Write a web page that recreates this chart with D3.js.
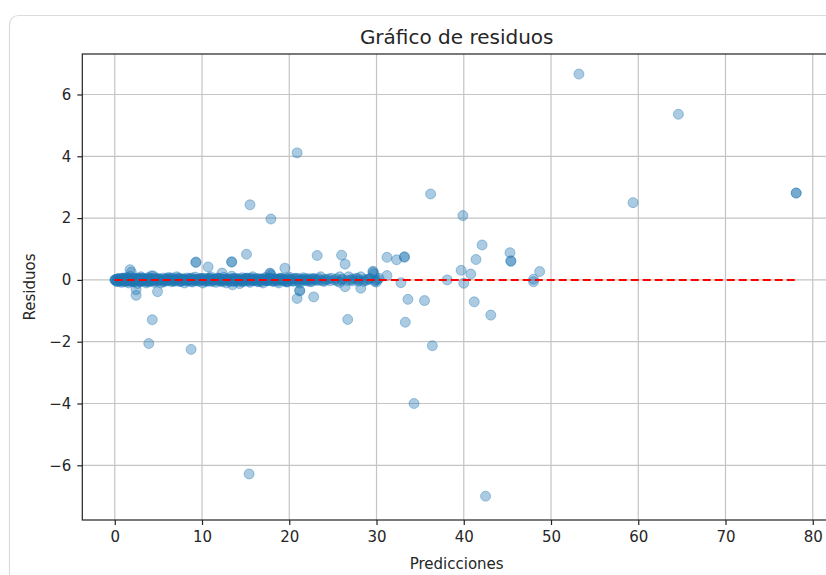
<!DOCTYPE html>
<html>
<head>
<meta charset="utf-8">
<script src="https://cdn.jsdelivr.net/npm/d3@7"></script>
<style>
  html, body { margin: 0; padding: 0; background: #fff; }
  svg { display: block; }
  text { font-family: "DejaVu Sans", sans-serif; }
</style>
</head>
<body>
<svg id="chart" width="826" height="575"></svg>
<script>
// ---- Data ----
const title = "Gráfico de residuos";
const xLabel = "Predicciones";
const yLabel = "Residuos";
const xTicks = [0, 10, 20, 30, 40, 50, 60, 70, 80];
const yTicks = [-6, -4, -2, 0, 2, 4, 6];

// dense band of near-zero residuals (four overlapping groups)
const bandPred = [0.0, 0.2, 0.4, 0.6, 0.8, 1.0, 1.2, 1.4, 1.6, 1.8, 2.0, 2.2, 2.4, 2.6, 2.8, 3.0, 3.2, 3.4, 3.6, 3.8,
  4.0, 4.2, 4.5, 4.8, 5.0, 5.3, 5.6, 5.9, 6.2, 6.5, 6.8, 7.1, 7.4, 7.7, 8.0, 8.3, 8.6, 8.9, 9.2, 9.5,
  9.8, 10.1, 10.4, 10.7, 11.0, 11.3, 11.6, 11.9, 12.2, 12.5, 12.8, 13.1, 13.4, 13.7, 14.0, 14.3, 14.6, 14.9, 15.2, 15.5,
  15.8, 16.1, 16.4, 16.7, 17.0, 17.3, 17.6, 17.9, 18.2, 18.5, 18.8, 19.1, 19.4, 19.7, 20.0, 20.4, 20.8, 21.2, 21.6, 22.0,
  22.4, 22.8, 23.2, 23.6, 24.0, 24.5, 25.2, 25.8, 25.8, 26.4, 26.8, 27.3, 27.8, 28.2, 28.5, 29.0, 29.7, 29.8, 30.0, 30.3,
  31.2, 32.8, 38.1, 40.0, 40.8, 48.0, 48.0];
const bandResid = [0.0, -0.05, 0.03, 0.0, -0.08, 0.05, -0.02, 0.08, -0.1, 0.12, 0.0, -0.06, 0.06, -0.12, 0.02, 0.1, -0.04, 0.0, -0.1, 0.07,
  -0.02, 0.13, -0.08, 0.03, 0.0, -0.1, 0.06, -0.03, 0.08, -0.06, 0.0, 0.1, -0.05, 0.02, -0.1, 0.06, 0.0, -0.07, 0.09, -0.02,
  0.04, -0.1, 0.05, -0.04, 0.1, 0.0, -0.08, 0.05, -0.03, 0.08, -0.1, 0.02, 0.12, -0.05, 0.0, -0.12, 0.07, -0.03, 0.05, -0.08,
  0.1, 0.0, -0.06, 0.04, -0.1, 0.08, -0.02, 0.15, -0.05, 0.03, -0.1, 0.06, 0.0, -0.07, 0.09, -0.04, 0.02, -0.1, 0.07, 0.0,
  -0.06, 0.05, -0.02, 0.1, -0.05, 0.03, 0.0, 0.1, -0.08, -0.22, 0.1, -0.03, 0.05, 0.1, -0.05, 0.02, 0.2, -0.05, -0.07, 0.05,
  0.14, -0.09, 0.0, -0.11, 0.19, 0.02, -0.06];

const band2Pred = [0.1, 0.35, 0.55, 0.75, 0.95, 1.15, 1.35, 1.55, 1.75, 1.95, 2.15, 2.35, 2.55, 2.75, 2.95, 3.15, 3.35, 3.55, 3.75, 3.95,
  4.15, 4.35, 4.65, 4.95, 5.15, 5.45, 5.75, 6.05, 6.35, 6.65, 6.95, 7.25, 7.55, 7.85, 8.15, 8.45, 8.75, 9.05, 9.35, 9.65,
  9.95, 10.25, 10.55, 10.85, 11.15, 11.45, 11.75, 12.05, 12.35, 12.65, 12.95, 13.25, 13.55, 13.85, 14.15, 14.45, 14.75, 15.05, 15.35, 15.65,
  15.95, 16.25, 16.55, 16.85, 17.15, 17.45, 17.75, 18.05, 18.35, 18.65, 18.95, 19.25, 19.55, 19.85, 20.2, 20.6, 21.0, 21.4, 21.8,
  22.2, 22.6, 23.0, 23.4, 23.8, 24.2, 24.8, 25.5, 26.1, 27.0, 27.6, 28.0, 28.8, 29.3, 30.1];
const band2Resid = [-0.02, 0.04, -0.05, 0.02, 0.06, -0.03, 0.01, -0.04, 0.03, -0.06,
  0.05, 0.0, -0.02, 0.05, -0.05, 0.02, 0.04, -0.04, 0.0, -0.06,
  0.04, -0.02, 0.06, -0.04, 0.03, 0.0, -0.05, 0.04, -0.01, 0.06,
  -0.04, 0.02, -0.05, 0.04, 0.0, -0.03, 0.06, -0.02, 0.02, -0.05,
  0.04, 0.0, -0.04, 0.05, -0.01, 0.03, 0.06, -0.04, 0.02, -0.03,
  0.04, -0.05, 0.02, 0.05, -0.04, 0.01, -0.06, 0.04, -0.02, 0.05,
  -0.03, 0.04, 0.0, -0.05, 0.03, -0.02, 0.06, -0.04, 0.02, 0.0,
  0.05, -0.03, 0.04, -0.06, 0.02, -0.04, 0.05, 0.0, -0.02, 0.04,
  -0.05, 0.02, 0.04, -0.03, 0.0, 0.05, -0.04, 0.02, -0.01, 0.04,
  0.0, -0.02, 0.05, 0.01];

const band3Pred = [0.05, 0.3, 0.5, 0.7, 0.9, 1.1, 1.3, 1.5, 1.7, 1.9, 2.1, 2.3, 2.5, 2.7, 2.9, 3.1, 3.3, 3.5, 3.7, 3.9,
  4.1, 4.4, 4.7, 5.1, 5.5, 5.8, 6.1, 6.4, 6.7, 7.0, 7.3, 7.6, 7.9, 8.2, 8.5, 8.8, 9.1, 9.4, 9.7, 10.0,
  10.3, 10.6, 10.9, 11.2, 11.5, 11.8, 12.1, 12.4, 12.7, 13.0, 13.3, 13.6, 13.9, 14.2, 14.5, 14.8, 15.1, 15.4, 15.7, 16.0,
  16.3, 16.6, 16.9, 17.2, 17.5, 17.8, 18.1, 18.4, 18.7, 19.0, 19.3, 19.6, 19.9, 20.3, 20.7, 21.1, 21.5, 21.9, 22.3, 22.7];
const band3Resid = [0.01, -0.05, 0.04, -0.02, 0.05, -0.06, 0.02, 0.0, 0.06, -0.03,
  0.02, -0.05, 0.04, 0.0, -0.04, 0.06, -0.01, 0.03, -0.05, 0.01,
  0.05, -0.02, 0.0, 0.04, -0.06, 0.02, -0.01, 0.05, -0.04, 0.01,
  0.06, -0.04, 0.02, -0.01, 0.04, -0.05, 0.03, 0.0, -0.02, 0.05,
  -0.04, 0.01, 0.05, -0.05, 0.02, -0.01, 0.04, -0.06, 0.02, 0.0,
  -0.03, 0.05, -0.02, 0.04, -0.05, 0.01, 0.06, -0.04, 0.02, -0.01,
  0.04, -0.05, 0.02, 0.0, -0.03, 0.05, -0.01, 0.03, -0.04, 0.02,
  0.0, -0.05, 0.04, -0.02, 0.05, -0.03, 0.01, 0.04, -0.02, 0.02];

const band4Pred = [0.15, 0.45, 0.65, 0.85, 1.05, 1.25, 1.45, 1.65, 1.85, 2.05, 2.25, 2.45, 2.65, 2.85, 3.05, 3.25, 3.45, 3.65, 3.85, 4.05,
  4.3, 4.6, 4.9, 5.2, 5.6, 5.9, 6.2, 6.5, 6.8, 7.1, 7.4, 7.7, 8.0, 8.3, 8.6, 8.9, 9.2, 9.5, 9.8, 10.1,
  10.4, 10.7, 11.0, 11.3, 11.6, 11.9, 12.2, 12.5, 12.8, 13.1, 13.4, 13.7, 14.0, 14.3, 14.6, 14.9, 15.2, 15.5, 15.8, 16.1,
  16.4, 16.7, 17.0, 17.3, 17.6, 17.9, 18.2, 18.5, 18.8, 19.1, 19.4, 19.7, 20.0, 20.5, 21.0, 21.5, 22.0, 22.5, 23.0, 23.5,
  24.1, 24.7, 25.4, 26.0, 26.6, 27.2, 27.9, 28.6, 29.2, 29.9];
const band4Resid = [0.0, 0.03, -0.03, 0.01, -0.02, 0.04, -0.04, 0.02, 0.0, -0.03,
  0.03, -0.01, 0.02, -0.04, 0.04, 0.0, -0.02, 0.03, -0.03, 0.01,
  0.02, -0.04, 0.03, 0.0, -0.02, 0.04, -0.01, 0.02, -0.03, 0.0,
  0.04, -0.02, 0.01, -0.04, 0.03, 0.0, -0.03, 0.02, 0.04, -0.01,
  0.0, 0.03, -0.04, 0.02, -0.01, 0.04, -0.03, 0.01, 0.0, -0.02,
  0.03, -0.04, 0.02, 0.0, -0.03, 0.04, -0.01, 0.02, -0.02, 0.03,
  -0.04, 0.01, 0.03, -0.02, 0.0, 0.04, -0.03, 0.02, -0.01, 0.03,
  0.0, -0.04, 0.02, 0.04, -0.02, 0.01, -0.03, 0.03, 0.0, -0.01,
  0.02, -0.03, 0.04, 0.0, -0.02, 0.03, -0.04, 0.01, 0.02, -0.01];

// scattered residuals
const outPred = [20.9, 53.2, 64.6, 78.1, 78.1, 59.4, 15.5, 17.9, 36.2, 39.9, 15.4, 42.5, 34.3, 36.4, 8.75, 3.9, 4.3, 26.7, 33.3, 43.1,
  33.6, 35.5, 41.2, 42.1, 45.3, 45.4, 45.4, 41.4, 23.2, 26.0, 26.4, 31.2, 32.3, 33.2, 33.2, 29.6, 29.6, 28.2, 22.8, 21.2,
  21.2, 20.9, 1.75, 1.9, 2.45, 2.45, 4.9, 9.3, 9.3, 10.7, 13.4, 13.4, 15.1, 17.8, 17.8, 19.5, 12.3, 13.5, 4.4, 39.7, 48.7];
const outResid = [4.11, 6.66, 5.36, 2.81, 2.81, 2.5, 2.43, 1.97, 2.78, 2.08, -6.28, -7.0, -4.0, -2.13, -2.25, -2.06, -1.29, -1.28, -1.37, -1.14,
  -0.63, -0.67, -0.71, 1.13, 0.88, 0.6, 0.62, 0.66, 0.79, 0.8, 0.51, 0.73, 0.65, 0.75, 0.73, 0.25, 0.28, -0.27, -0.55, -0.36,
  -0.34, -0.6, 0.33, 0.25, -0.5, -0.32, -0.38, 0.56, 0.58, 0.42, 0.59, 0.57, 0.83, 0.22, 0.2, 0.38, 0.22, -0.16, 0.13, 0.31, 0.27];

// ---- Drawing ----
(function () {
const preds = bandPred.concat(band2Pred, band3Pred, band4Pred, outPred);
const resid = bandResid.concat(band2Resid, band3Resid, band4Resid, outResid);
const points = preds.map((p, i) => ({ p, r: resid[i] }));

const svg = d3.select("#chart");

// notebook card
svg.append("rect")
  .attr("x", 9.5).attr("y", 15.5)
  .attr("width", 900).attr("height", 700)
  .attr("rx", 9).attr("ry", 9)
  .attr("fill", "#fff").attr("stroke", "#dcdcdc").attr("stroke-width", 1.2);

const pLeft = 82.3, pTop = 54, pBottom = 520;
const xUnit = 8.725;
const x = d3.scaleLinear().domain([-3.72, 82.1]).range([pLeft, pLeft + 85.82 * xUnit]);
const y = d3.scaleLinear().domain([-7.77, 7.31]).range([pBottom, pTop]);
const pRight = x(82.1);

const g = svg.append("g");

// grid
g.append("g").selectAll("line").data(xTicks).join("line")
  .attr("x1", d => x(d)).attr("x2", d => x(d))
  .attr("y1", pTop).attr("y2", pBottom)
  .attr("stroke", "#c4c4c4").attr("stroke-width", 1.2);
g.append("g").selectAll("line").data(yTicks).join("line")
  .attr("y1", d => y(d)).attr("y2", d => y(d))
  .attr("x1", pLeft).attr("x2", pRight)
  .attr("stroke", "#c4c4c4").attr("stroke-width", 1.2);

// points
g.append("g").selectAll("circle").data(points).join("circle")
  .attr("cx", d => x(d.p)).attr("cy", d => y(d.r))
  .attr("r", 5)
  .attr("fill", "#1f77b4").attr("fill-opacity", 0.38)
  .attr("stroke", "#1f77b4").attr("stroke-opacity", 0.38).attr("stroke-width", 1);

// zero line
g.append("line")
  .attr("x1", x(d3.min(preds))).attr("x2", x(d3.max(preds)))
  .attr("y1", y(0)).attr("y2", y(0))
  .attr("stroke", "red").attr("stroke-width", 2)
  .attr("stroke-dasharray", "8,4");

// axes
const fmt = d => (d < 0 ? "\u2212" + Math.abs(d) : String(d));
const xAxis = d3.axisBottom(x).tickValues(xTicks).tickFormat(fmt).tickSize(5).tickPadding(6);
const yAxis = d3.axisLeft(y).tickValues(yTicks).tickFormat(fmt).tickSize(5).tickPadding(6);

const xg = svg.append("g").attr("transform", `translate(0,${pBottom})`).call(xAxis);
const yg = svg.append("g").attr("transform", `translate(${pLeft},0)`).call(yAxis);
[xg, yg].forEach(a => {
  a.select(".domain").remove();
  a.selectAll(".tick line").attr("stroke", "#222").attr("stroke-width", 1.2);
  a.selectAll(".tick text").attr("fill", "#262626")
    .style("font-family", "'DejaVu Sans', sans-serif").style("font-size", "15px");
});

// spines
svg.append("rect")
  .attr("x", pLeft).attr("y", pTop)
  .attr("width", pRight - pLeft).attr("height", pBottom - pTop)
  .attr("fill", "none").attr("stroke", "#222").attr("stroke-width", 1.2);

// labels
svg.append("text").attr("x", (pLeft + pRight) / 2).attr("y", 44)
  .attr("text-anchor", "middle").attr("fill", "#262626")
  .style("font-size", "20px").text(title);
svg.append("text").attr("x", (pLeft + pRight) / 2).attr("y", 569)
  .attr("text-anchor", "middle").attr("fill", "#262626")
  .style("font-size", "15px").text(xLabel);
svg.append("text")
  .attr("transform", `translate(35,${(pTop + pBottom) / 2}) rotate(-90)`)
  .attr("text-anchor", "middle").attr("fill", "#262626")
  .style("font-size", "15px").text(yLabel);
})();
</script>
</body>
</html>
